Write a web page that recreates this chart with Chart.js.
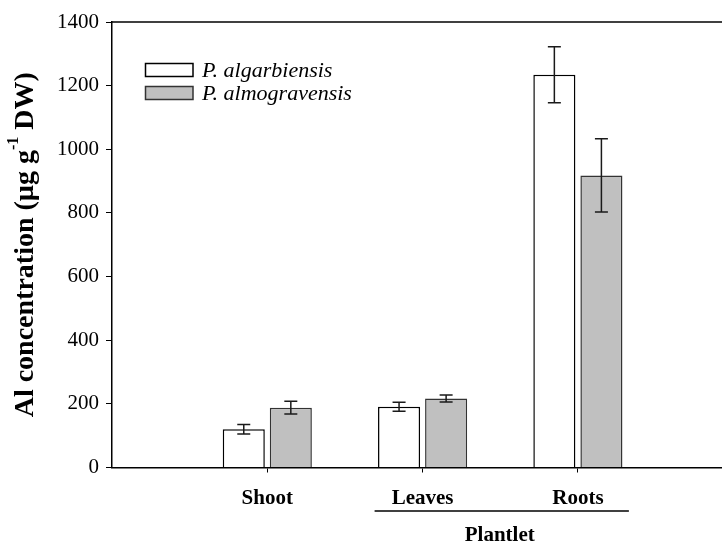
<!DOCTYPE html>
<html>
<head>
<meta charset="utf-8">
<script src="https://cdn.jsdelivr.net/npm/chart.js@4.4.1/dist/chart.umd.min.js"></script>
<style>
  html, body { margin: 0; padding: 0; background: #fff; overflow: hidden; }
  #wrap { position: relative; width: 722px; height: 542px; }
</style>
</head>
<body>
<div id="wrap"><canvas id="c"></canvas></div>
<script>
// ---- data ----
const categories = ['Shoot', 'Leaves', 'Roots'];
const categoryPositions = [1, 2, 3];
const seriesNames = ['P. algarbiensis', 'P. almogravensis'];
const algarbiensis = [120, 191, 1234];
const algarbiensisErr = [15, 14, 88];
const almogravensis = [188, 217, 918];
const almogravensisErr = [20, 11, 115];
const yTicks = [0, 200, 400, 600, 800, 1000, 1200, 1400];
const groupLabel = 'Plantlet';
const yTitleMain = 'Al concentration (µg g';
const yTitleSup = '-1';
const yTitleEnd = ' DW)';

const SERIF = '"Liberation Serif", "Times New Roman", serif';
const errors = [algarbiensisErr, almogravensisErr];
const fills = ['#ffffff', '#c0c0c0'];
const borders = ['#000000', '#333333'];

const errorBars = {
  id: 'errorBars',
  afterDatasetsDraw(chart) {
    const ctx = chart.ctx, y = chart.scales.y;
    ctx.save();
    ctx.strokeStyle = '#1a1a1a';
    ctx.lineWidth = 1.5;
    chart.data.datasets.forEach((ds, i) => {
      const meta = chart.getDatasetMeta(i);
      meta.data.forEach((el, j) => {
        const v = ds.data[j].y, e = errors[i][j];
        const yt = y.getPixelForValue(v + e), yb = y.getPixelForValue(v - e);
        const x = el.x, cap = 6.5;
        ctx.beginPath();
        ctx.moveTo(x, yt); ctx.lineTo(x, yb);
        ctx.moveTo(x - cap, yt); ctx.lineTo(x + cap, yt);
        ctx.moveTo(x - cap, yb); ctx.lineTo(x + cap, yb);
        ctx.stroke();
      });
    });
    ctx.restore();
  }
};

const decorations = {
  id: 'decorations',
  afterDraw(chart) {
    const ctx = chart.ctx, a = chart.chartArea, xs = chart.scales.x;
    ctx.save();
    // top frame line
    ctx.strokeStyle = '#000';
    ctx.lineWidth = 1.5;
    ctx.beginPath();
    ctx.moveTo(a.left, a.top); ctx.lineTo(a.right, a.top);
    ctx.stroke();

    // legend
    const lx = 145.5, lw = 47.5, lh = 13;
    const ly = [63.5, 86.5];
    ctx.font = 'italic 22px ' + SERIF;
    ctx.textBaseline = 'middle';
    ctx.textAlign = 'left';
    seriesNames.forEach((n, i) => {
      ctx.fillStyle = fills[i];
      ctx.fillRect(lx, ly[i], lw, lh);
      ctx.strokeStyle = borders[i];
      ctx.lineWidth = 1.5;
      ctx.strokeRect(lx, ly[i], lw, lh);
      ctx.fillStyle = '#000';
      ctx.fillText(n, 202, ly[i] + lh / 2 + 1);
    });

    // group line + label
    const x1 = xs.getPixelForValue(2) - 48, x2 = xs.getPixelForValue(3) + 51;
    ctx.strokeStyle = '#000';
    ctx.lineWidth = 1.5;
    ctx.beginPath();
    ctx.moveTo(x1, 511); ctx.lineTo(x2, 511);
    ctx.stroke();
    ctx.font = 'bold 21px ' + SERIF;
    ctx.fillStyle = '#000';
    ctx.textAlign = 'center';
    ctx.textBaseline = 'middle';
    ctx.fillText(groupLabel, (x1 + x2) / 2 - 2, 536);

    // y title with superscript
    const cy = (a.top + a.bottom) / 2;
    ctx.translate(26, cy);
    ctx.rotate(-Math.PI / 2);
    const fMain = 'bold 28px ' + SERIF, fSup = 'bold 16px ' + SERIF;
    ctx.font = fMain; const w1 = ctx.measureText(yTitleMain).width;
    const w3 = ctx.measureText(yTitleEnd).width;
    ctx.font = fSup; const w2 = ctx.measureText(yTitleSup).width;
    let sx = -(w1 + w2 + w3) / 2;
    ctx.textAlign = 'left';
    ctx.textBaseline = 'middle';
    ctx.font = fMain; ctx.fillText(yTitleMain, sx, 0); sx += w1;
    ctx.font = fSup; ctx.fillText(yTitleSup, sx, -12); sx += w2;
    ctx.font = fMain; ctx.fillText(yTitleEnd, sx, 0);
    ctx.restore();
  }
};

const chart = new Chart(document.getElementById('c'), {
  type: 'bar',
  data: {
    datasets: [
      {
        label: seriesNames[0],
        data: categoryPositions.map((p, i) => ({ x: p, y: algarbiensis[i] })),
        backgroundColor: fills[0], borderColor: borders[0], borderWidth: 1.5,
        barPercentage: 0.894, categoryPercentage: 0.606
      },
      {
        label: seriesNames[1],
        data: categoryPositions.map((p, i) => ({ x: p, y: almogravensis[i] })),
        backgroundColor: fills[1], borderColor: borders[1], borderWidth: 1.5,
        barPercentage: 0.894, categoryPercentage: 0.606
      }
    ]
  },
  options: {
    responsive: true,
    maintainAspectRatio: false,
    animation: false,
    layout: { padding: { left: 0, top: 22, right: 0, bottom: 0 } },
    plugins: { legend: { display: false }, tooltip: { enabled: false } },
    scales: {
      x: {
        type: 'linear',
        offset: false,
        min: 0,
        max: 3.928,
        afterBuildTicks(s) { s.ticks = categoryPositions.map(v => ({ value: v })); },
        afterFit(s) { s.height = 74.5; },
        ticks: {
          callback: (v) => categories[categoryPositions.indexOf(v)],
          font: { family: SERIF, size: 21, weight: 'bold' },
          color: '#000',
          padding: 13,
          maxRotation: 0,
          autoSkip: false
        },
        grid: { offset: false, drawOnChartArea: false, drawTicks: true, tickLength: 5, color: '#000', lineWidth: 1 },
        border: { display: true, color: '#000', width: 1.5 }
      },
      y: {
        min: 0,
        max: 1400,
        afterBuildTicks(s) { s.ticks = yTicks.map(v => ({ value: v })); },
        afterFit(s) { s.width = 112; },
        ticks: {
          callback: (v) => String(v),
          font: { family: SERIF, size: 21 },
          color: '#000',
          padding: 7
        },
        grid: { drawOnChartArea: false, drawTicks: true, tickLength: 6, color: '#000', lineWidth: 1 },
        border: { display: true, color: '#000', width: 1.5 }
      }
    }
  },
  plugins: [errorBars, decorations]
});
</script>
</body>
</html>
